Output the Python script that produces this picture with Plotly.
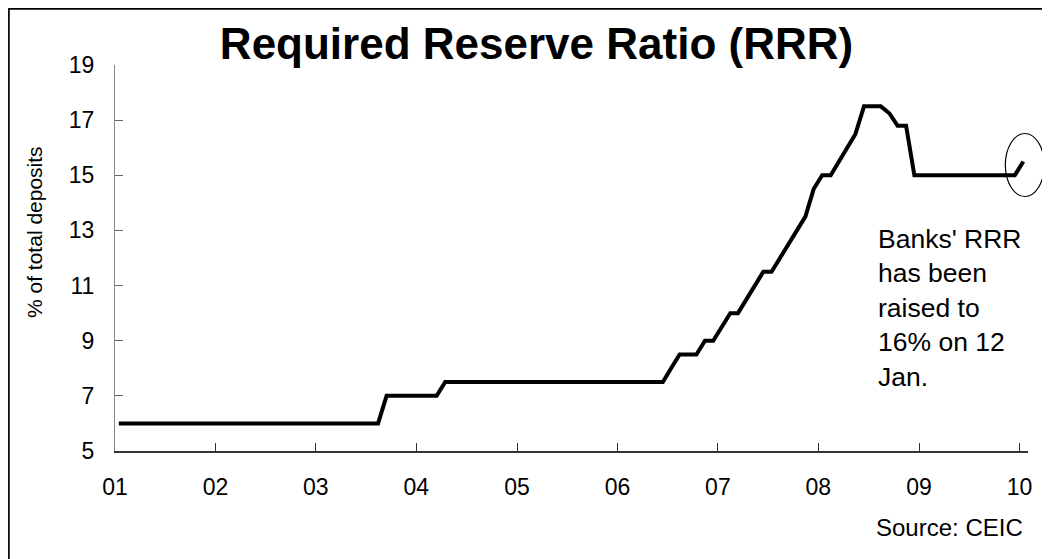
import pandas as pd
import plotly.graph_objects as go

# Monthly observations, Jan 2001 .. Jan 2010 (plotted mid-month)
months = pd.date_range("2001-01-01", "2010-01-01", freq="MS") + pd.Timedelta(days=14)

rrr = [
    6, 6, 6, 6, 6, 6, 6, 6, 6, 6, 6, 6,                       # 2001
    6, 6, 6, 6, 6, 6, 6, 6, 6, 6, 6, 6,                       # 2002
    6, 6, 6, 6, 6, 6, 6, 6, 7, 7, 7, 7,                       # 2003
    7, 7, 7, 7.5, 7.5, 7.5, 7.5, 7.5, 7.5, 7.5, 7.5, 7.5,     # 2004
    7.5, 7.5, 7.5, 7.5, 7.5, 7.5, 7.5, 7.5, 7.5, 7.5, 7.5, 7.5,  # 2005
    7.5, 7.5, 7.5, 7.5, 7.5, 7.5, 8, 8.5, 8.5, 8.5, 9, 9,     # 2006
    9.5, 10, 10, 10.5, 11, 11.5, 11.5, 12, 12.5, 13, 13.5, 14.5,  # 2007
    15, 15, 15.5, 16, 16.5, 17.5, 17.5, 17.5, 17.25, 16.8, 16.8, 15,  # 2008
    15, 15, 15, 15, 15, 15, 15, 15, 15, 15, 15, 15,           # 2009
    15.5,                                                     # 2010
]

tick_dates = ["2001-01-01", "2002-01-01", "2003-01-01", "2004-01-01", "2005-01-01",
              "2006-01-01", "2007-01-01", "2008-01-01", "2009-01-01", "2010-01-01"]
tick_labels = ["01", "02", "03", "04", "05", "06", "07", "08", "09", "10"]
y_ticks = [5, 7, 9, 11, 13, 15, 17, 19]
x_range = ["2001-01-01", "2010-02-01"]

title_text = "Required Reserve Ratio (RRR)"
y_title = "% of total deposits"
note_text = "Banks' RRR<br>has been<br>raised to<br>16% on 12<br>Jan."
source_text = "Source: CEIC"

FONT = "Liberation Sans, Arial, sans-serif"

# The page body has an 8px margin, so the figure starts at window pixel 8.
OFF = 8
WIN_W, WIN_H = 1050, 559
W, H = WIN_W - OFF, WIN_H - OFF

# plot area in window pixels: x 115..1028, y 65..451
L, R, T, B = 115, 1028, 65, 451
pw, ph = R - L, B - T


def px_x(x):
    return (x - L) / pw


def px_y(y):
    return (B - y) / ph


fig = go.Figure()
fig.add_trace(go.Scatter(
    x=months, y=rrr, mode="lines",
    line=dict(color="black", width=4),
    hoverinfo="skip", showlegend=False,
))

fig.update_layout(
    width=W, height=H,
    margin=dict(l=L - OFF, r=WIN_W - R, t=T - OFF, b=WIN_H - B, pad=0),
    paper_bgcolor="white", plot_bgcolor="white",
    font=dict(family=FONT, color="black", size=23),
    showlegend=False,
    title=dict(
        text="<b>" + title_text + "</b>",
        font=dict(family=FONT, size=44, color="black"),
        x=px_x(536.5), xref="paper", xanchor="center",
        y=1 - (44 - OFF) / H, yref="container", yanchor="middle",
    ),
)

fig.update_xaxes(
    type="date",
    range=x_range,
    tickvals=tick_dates, ticktext=tick_labels,
    ticks="inside", ticklen=8, tickwidth=1, tickcolor="#333333",
    showline=True, linecolor="#333333", linewidth=1.5,
    showgrid=False, zeroline=False,
    tickfont=dict(size=23, family=FONT, color="black"),
    ticklabelstandoff=15,
)
fig.update_yaxes(
    range=[5, 19], tickvals=y_ticks,
    ticks="inside", ticklen=8, tickwidth=1, tickcolor="#666666",
    showline=True, linecolor="#888888", linewidth=1,
    showgrid=False, zeroline=False,
    tickfont=dict(size=23, family=FONT, color="black"),
    ticklabelstandoff=15,
)

# y-axis title (placed as text, offset upward as in the reference)
fig.add_annotation(
    text=y_title, xref="paper", yref="paper",
    x=px_x(34), y=px_y(232), xanchor="center", yanchor="middle",
    textangle=-90, showarrow=False,
    font=dict(family=FONT, size=21, color="black"),
)

# note
fig.add_annotation(
    text=note_text, xref="paper", yref="paper",
    x=px_x(876), y=px_y(222), xanchor="left", yanchor="top",
    align="left", showarrow=False,
    font=dict(family=FONT, size=26.5, color="black"),
)

# source
fig.add_annotation(
    text=source_text, xref="paper", yref="paper",
    x=px_x(1025), y=px_y(527), xanchor="right", yanchor="middle",
    showarrow=False,
    font=dict(family=FONT, size=24, color="black"),
)

# ellipse around the latest observation (horizontal anchor derived from the
# last date on the x range, so that it is not clipped at the plot edge)
r0, r1 = pd.Timestamp(x_range[0]), pd.Timestamp(x_range[1])
last_frac = (months[-1] - r0) / (r1 - r0)
fig.add_shape(
    type="circle", xref="paper", yref="y",
    xsizemode="pixel", ysizemode="pixel",
    xanchor=last_frac, yanchor=rrr[-1],
    x0=-18, x1=21, y0=-35, y1=28,
    line=dict(color="black", width=1.2),
    layer="above",
)

# figure border (left/top edges at the figure's own edge)
fig.add_shape(
    type="rect", xref="paper", yref="paper",
    x0=px_x(OFF + 0.9), x1=px_x(1045), y0=px_y(575), y1=px_y(OFF + 0.9),
    line=dict(color="black", width=1.7),
    fillcolor="rgba(0,0,0,0)", layer="above",
)

fig.write_html("out.html")
